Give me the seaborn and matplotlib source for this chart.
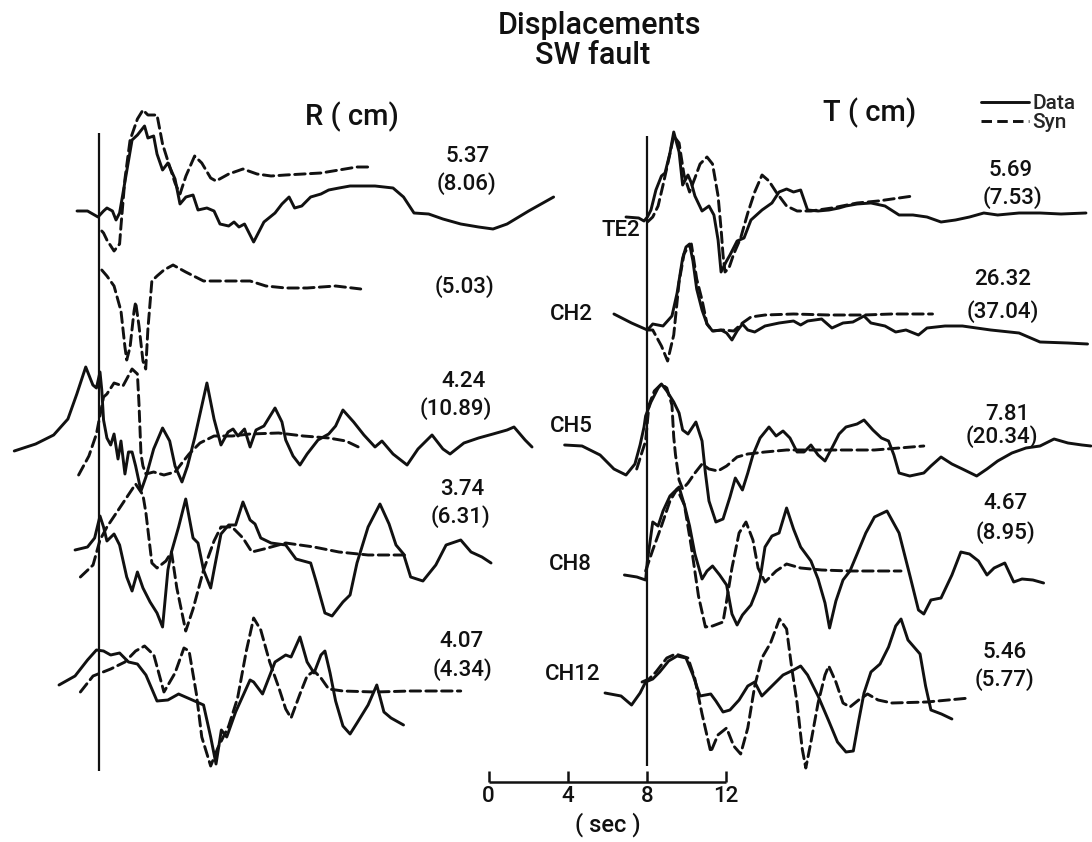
import matplotlib
matplotlib.use("Agg")
import matplotlib.pyplot as plt
from matplotlib.lines import Line2D
import pandas as pd
import seaborn as sns

# ------------------------------------------------------------------ data
STATIONS = ["TE2", "CH2", "CH5", "CH8", "CH12"]
R_DATA_PEAK = ["5.37", None, "4.24", "3.74", "4.07"]
R_SYN_PEAK = ["8.06", "5.03", "10.89", "6.31", "4.34"]
T_DATA_PEAK = ["5.69", "26.32", "7.81", "4.67", "5.46"]
T_SYN_PEAK = ["7.53", "37.04", "20.34", "8.95", "5.77"]
SCALE_TICKS = [0, 4, 8, 12]

# traces: (time in s, normalised displacement)
R_TE2_DATA = [(6.89,0),(7.42,0),(7.95,-0.3),(8.23,0),(8.40,0.15),(8.68,0),(8.86,-0.45),(9.04,-0.1),(9.67,3.55),(9.94,3.8),(10.30,4.25),(10.47,3.65),(10.76,3.75),(10.93,2.85),(11.21,2.05),(11.48,2.4),(11.84,1.6),(12.09,0.35),(12.39,0.7),(12.75,0.8),(13.00,0.05),(13.45,0.15),(13.81,0),(14.11,-0.65),(14.55,-0.75),(14.82,-0.55),(15.07,-0.8),(15.35,-0.65),(15.81,-1.55),(16.33,-0.55),(16.89,-0.1),(17.24,0.35),(17.60,0.7),(17.88,0.15),(18.24,0.25),(18.69,0.7),(19.21,0.85),(19.60,1.05),(20.12,1.15),(20.68,1.25),(21.22,1.25),(21.94,1.25),(22.85,1.15),(23.38,0.7),(23.91,-0.1),(24.65,-0.15),(25.37,-0.4),(26.27,-0.65),(27.17,-0.8),(27.90,-0.9),(28.61,-0.65),(29.70,0),(30.96,0.7)]
R_TE2_SYN = [(8.14,-1.0),(8.23,-1.1),(8.40,-1.45),(8.76,-2.0),(9.04,-1.65),(9.11,-0.75),(9.31,1.6),(9.57,3.55),(9.94,4.6),(10.22,5.05),(10.47,4.8),(10.93,4.8),(11.21,3.35),(11.48,2.5),(11.84,1.4),(12.09,0.85),(12.39,1.75),(12.83,2.75),(13.19,2.4),(13.64,1.65),(13.91,1.5),(14.55,1.85),(15.27,2.1),(15.98,1.85),(16.69,1.75),(17.43,1.8),(19.21,1.9),(21.03,2.2),(21.74,2.2)]
R_CH2_DATA = None
R_CH2_SYN = [(8.14,0),(8.40,-0.3),(8.76,-0.8),(9.11,-2.05),(9.31,-3.85),(9.40,-4.5),(9.57,-3.85),(9.77,-2.05),(9.85,-1.6),(10.02,-2.8),(10.22,-4.55),(10.36,-4.95),(10.47,-2.95),(10.67,-0.55),(10.93,-0.3),(11.28,0),(11.74,0.25),(12.38,-0.1),(13.28,-0.55),(14.36,-0.55),(15.63,-0.55),(16.43,-0.8),(17.43,-0.9),(18.51,-0.9),(19.95,-0.8),(21.22,-0.95)]
R_CH5_DATA = [(3.72,-0.55),(4.80,-0.2),(5.71,0.25),(6.43,1.05),(6.88,2.3),(7.33,3.65),(7.69,2.75),(7.87,2.6),(8.05,3.4),(8.14,2.5),(8.23,1.0),(8.40,0.1),(8.59,-0.25),(8.76,0.3),(8.96,-0.95),(9.11,-0.05),(9.31,-1.7),(9.49,-0.6),(9.67,-0.6),(9.85,-1.3),(10.12,-2.55),(10.37,-1.85),(10.76,-0.45),(11.21,0.6),(11.57,-0.05),(11.84,-1.3),(12.19,-2.1),(12.47,-1.3),(12.83,0.1),(13.45,2.85),(13.81,1.05),(14.16,-0.25),(14.52,0.4),(14.77,0.55),(15.02,0.2),(15.35,0.55),(15.63,-0.35),(15.93,0.5),(16.33,0.7),(16.89,1.6),(17.24,0.9),(17.43,0),(17.80,-0.8),(18.15,-1.25),(18.51,-0.7),(19.06,0),(19.60,0.3),(19.95,0.7),(20.32,1.5),(20.86,0.9),(21.38,0.25),(21.94,-0.35),(22.29,-0.05),(22.85,-0.7),(23.56,-1.25),(24.11,-0.45),(24.82,0.25),(25.37,-0.45),(25.73,-0.7),(26.43,-0.15),(27.17,0.1),(27.90,0.3),(28.61,0.5),(28.96,0.65),(29.52,0),(29.87,-0.35)]
R_CH5_SYN = [(6.97,-1.75),(7.49,-0.8),(7.87,0.3),(8.23,2.15),(8.40,2.3),(8.76,2.85),(9.21,2.7),(9.67,3.55),(9.94,3.3),(10.02,1.8),(10.12,-0.7),(10.22,-1.3),(10.37,-1.7),(10.76,-1.6),(11.28,-1.75),(11.84,-1.6),(12.19,-1.15),(12.55,-0.7),(13.10,-0.15),(13.81,0.2),(14.72,0.2),(15.63,0.3),(17.07,0.35),(18.33,0.2),(19.60,0.1),(20.47,-0.05),(21.31,-0.45)]
R_CH8_DATA = [(6.79,0),(7.42,0.15),(7.78,0.6),(8.05,1.7),(8.23,1.15),(8.40,0.45),(8.76,0.8),(9.04,0.25),(9.40,-1.35),(9.67,-2.05),(9.94,-1.1),(10.22,-1.9),(10.58,-2.6),(10.93,-3.15),(11.21,-3.85),(11.48,-1.0),(11.66,-0.1),(12.02,1.15),(12.38,2.55),(12.75,0.6),(13.00,0.35),(13.28,-1.0),(13.64,-1.9),(13.81,-1.0),(14.16,0.8),(14.55,1.25),(14.90,1.25),(15.27,2.4),(15.63,1.5),(15.88,1.3),(16.17,0.6),(16.69,0.35),(17.43,0.25),(17.95,-0.45),(18.69,-0.65),(18.96,-1.55),(19.41,-3.15),(19.77,-3.3),(20.32,-2.6),(20.68,-2.25),(21.03,-0.65),(21.59,1.15),(22.19,2.3),(22.65,1.3),(23.00,0.25),(23.38,-0.2),(23.74,-1.35),(24.36,-1.55),(25.01,-0.75),(25.53,0.25),(26.27,0.5),(26.79,-0.1),(27.34,-0.35),(27.80,-0.65)]
R_CH8_SYN = [(7.06,-1.35),(7.70,-0.75),(8.05,0.5),(8.40,1.15),(9.11,2.2),(9.85,3.3),(10.22,2.75),(10.37,1.85),(10.67,-0.65),(10.93,-0.9),(11.38,-0.55),(11.66,-0.1),(11.93,-1.9),(12.38,-4.05),(12.75,-2.95),(13.28,-1.0),(13.81,0.45),(14.16,1.15),(14.72,1.15),(15.27,0.6),(15.72,-0.1),(16.33,0.05),(17.43,0.35),(18.86,0.15),(20.12,-0.1),(21.59,-0.25),(23.56,-0.25)]
R_CH12_DATA = [(5.98,-0.25),(6.79,0.2),(7.42,1.0),(7.87,1.5),(8.23,1.45),(8.59,1.25),(9.04,1.35),(9.49,0.9),(9.94,0.8),(10.37,0.25),(10.93,-1.05),(11.48,-1.0),(12.02,-0.7),(12.83,-1.05),(13.28,-1.25),(13.64,-2.85),(13.91,-4.2),(14.18,-2.5),(14.45,-2.85),(14.90,-1.6),(15.63,0),(15.81,-0.1),(16.26,-0.7),(16.89,0.9),(17.43,1.25),(17.70,1.15),(18.15,2.15),(18.51,0.9),(18.86,0.35),(19.21,1.25),(19.41,1.45),(19.67,0.35),(19.95,-1.05),(20.32,-2.3),(20.68,-2.7),(21.03,-2.15),(21.59,-1.25),(22.03,-0.25),(22.39,-1.6),(22.75,-1.9),(23.38,-2.25)]
R_CH12_SYN = [(7.06,-0.6),(7.70,0.2),(8.59,0.55),(9.31,0.9),(9.85,1.45),(10.30,1.7),(10.77,1.25),(11.28,-0.6),(11.84,0.35),(12.29,1.6),(12.55,1.45),(12.92,-0.7),(13.19,-2.85),(13.64,-4.3),(14.00,-3.4),(14.55,-2.3),(15.00,-0.9),(15.44,1.45),(15.81,3.1),(16.17,2.5),(16.62,0.9),(17.07,-0.35),(17.43,-1.45),(17.70,-1.9),(18.15,-0.7),(18.51,0.2),(18.86,0.45),(19.21,0.1),(19.60,-0.45),(20.32,-0.55),(21.94,-0.6),(23.74,-0.55),(26.27,-0.55)]

T_TE2_DATA = [(6.94,0),(7.58,-0.05),(7.85,-0.2),(8.02,0),(8.20,0.35),(8.45,1.35),(8.73,2.05),(8.91,2.2),(9.16,3.2),(9.35,4.25),(9.62,3.25),(9.80,1.6),(10.07,2.1),(10.24,1.7),(10.42,1.05),(10.78,0.3),(11.13,0.55),(11.38,0.1),(11.59,-1.15),(11.74,-2.75),(11.99,-2.25),(12.19,-1.9),(12.55,-1.2),(12.90,-1.05),(13.25,-0.15),(13.81,0.35),(14.31,0.7),(14.67,1.25),(15.05,1.4),(15.40,1.25),(15.76,1.35),(16.11,0.35),(16.64,0.3),(17.19,0.35),(17.70,0.45),(18.05,0.55),(18.61,0.65),(19.31,0.7),(20.02,0.55),(20.73,0.1),(21.43,0.1),(22.14,0),(22.85,-0.25),(23.58,-0.15),(24.29,0),(25.01,0.2),(25.71,0.1),(26.79,0.2),(27.85,0.2),(28.91,0.15),(30.17,0.2)]
T_TE2_SYN = [(8.02,-0.25),(8.29,0),(8.56,0.55),(8.81,1.6),(9.09,2.85),(9.35,4.05),(9.62,3.7),(9.87,2.1),(10.15,1.25),(10.42,1.95),(10.68,2.65),(11.03,3.0),(11.31,2.65),(11.59,1.05),(11.75,-0.7),(11.84,-1.9),(11.94,-2.75),(12.14,-2.55),(12.38,-1.85),(12.73,-1.05),(13.09,0.2),(13.44,1.25),(13.81,2.1),(14.16,1.8),(14.52,1.25),(15.05,0.55),(15.58,0.3),(16.28,0.3),(17.34,0.45),(18.61,0.7),(19.67,0.8),(21.43,1.05)]
T_CH2_DATA = [(6.33,0.55),(7.22,0.1),(8.02,-0.25),(8.29,0.05),(8.81,-0.05),(9.26,0.45),(9.52,1.6),(9.80,3.35),(9.97,3.9),(10.15,4.05),(10.32,3.2),(10.51,1.8),(10.78,0.75),(11.03,0.05),(11.31,-0.3),(11.74,-0.25),(12.02,-0.4),(12.29,-0.75),(12.55,-0.3),(12.82,0.05),(13.09,-0.25),(13.44,-0.35),(13.96,-0.05),(14.67,0.1),(15.40,0.2),(15.76,0),(16.11,0.2),(16.82,0.3),(17.34,-0.15),(17.90,0.1),(18.40,0.15),(18.96,0.45),(19.31,0.1),(20.02,-0.05),(20.56,-0.35),(21.08,-0.25),(21.71,-0.5),(22.14,-0.15),(23.05,-0.05),(23.93,-0.05),(25.36,-0.25),(26.79,-0.4),(27.85,-0.85),(29.26,-0.9),(30.25,-0.95)]
T_CH2_SYN = [(8.02,-0.25),(8.29,-0.25),(8.73,-1.05),(9.04,-1.8),(9.35,-0.5),(9.62,2.15),(9.87,3.55),(10.07,3.9),(10.24,4.05),(10.51,2.3),(10.78,1.25),(11.03,0.05),(11.31,-0.3),(11.84,-0.25),(12.38,-0.3),(12.82,0.1),(13.25,0.4),(13.96,0.5),(15.40,0.55),(17.19,0.5),(18.96,0.5),(20.37,0.55),(22.42,0.55)]
T_CH5_DATA = [(3.84,0),(4.72,-0.05),(5.63,-0.5),(6.33,-1.2),(6.94,-1.5),(7.39,-0.95),(7.65,0),(7.85,0.9),(7.93,1.45),(8.20,2.15),(8.56,2.85),(8.73,3.05),(9.00,2.7),(9.35,2.15),(9.62,1.6),(9.80,0.75),(10.07,0.55),(10.47,1.15),(10.78,0.2),(10.95,-1.4),(11.13,-2.8),(11.48,-3.85),(11.84,-3.7),(12.19,-2.6),(12.46,-1.65),(12.82,-2.25),(13.09,-1.4),(13.35,-0.5),(13.71,0.35),(14.16,0.9),(14.52,0.45),(14.87,0.7),(15.22,0.35),(15.58,-0.35),(15.93,-0.35),(16.28,0),(16.64,-0.5),(16.99,-0.8),(17.34,-0.15),(17.70,0.55),(18.05,0.9),(18.61,1.05),(18.96,1.25),(19.41,0.75),(19.84,0.35),(20.20,0.2),(20.47,-0.5),(20.73,-1.4),(21.27,-1.55),(21.98,-1.4),(22.34,-1.05),(22.85,-0.6),(23.40,-0.95),(23.93,-1.2),(24.65,-1.55),(25.17,-1.2),(25.71,-0.8),(26.43,-0.4),(27.14,-0.15),(27.85,-0.05),(28.56,0.3),(29.26,0.1),(29.97,0),(30.42,-0.05)]
T_CH5_SYN = [(7.48,-1.2),(7.75,-0.35),(7.93,0.2),(8.10,2.0),(8.37,2.7),(8.73,3.05),(9.00,2.85),(9.26,2.0),(9.35,0.4),(9.44,-0.5),(9.62,-1.75),(9.80,-2.2),(10.07,-1.9),(10.42,-1.4),(10.78,-0.95),(11.13,-1.2),(11.58,-1.3),(12.02,-1.05),(12.55,-0.6),(13.09,-0.45),(13.96,-0.35),(15.05,-0.25),(16.28,-0.25),(17.70,-0.25),(19.49,-0.25),(21.98,-0.05)]
T_CH8_DATA = [(6.86,0),(7.49,-0.1),(7.93,-0.25),(8.02,0.7),(8.29,2.65),(8.56,2.45),(8.81,3.2),(9.16,3.95),(9.62,4.4),(9.89,3.5),(10.15,2.45),(10.42,1.05),(10.78,-0.2),(11.03,0.2),(11.31,0.45),(11.67,0),(12.02,-0.5),(12.29,-1.95),(12.55,-2.5),(12.82,-2.0),(13.25,-1.5),(13.53,-0.8),(13.71,-0.2),(13.96,1.4),(14.31,1.95),(14.67,2.1),(15.05,3.35),(15.40,2.3),(15.76,1.4),(16.28,0.7),(16.64,-0.2),(16.99,-1.4),(17.22,-2.65),(17.54,-1.3),(17.90,-0.25),(18.25,0.2),(18.61,1.05),(19.05,2.1),(19.49,2.9),(20.12,3.2),(20.73,2.1),(21.27,0),(21.71,-1.75),(21.98,-1.95),(22.34,-1.25),(22.85,-1.15),(23.40,0),(23.85,1.15),(24.29,1.05),(24.74,0.7),(25.17,0),(25.53,0.35),(26.07,0.6),(26.52,-0.35),(26.94,-0.2),(27.49,-0.25),(28.03,-0.4)]
T_CH8_SYN = [(7.93,0.2),(8.29,1.25),(8.73,2.45),(9.16,3.7),(9.52,4.3),(9.89,3.5),(10.24,1.4),(10.60,-1.05),(10.95,-2.6),(11.31,-2.55),(11.84,-2.35),(12.02,-1.3),(12.29,0.35),(12.65,2.1),(13.00,2.65),(13.35,1.75),(13.61,0.35),(13.96,-0.35),(14.52,0.2),(15.05,0.55),(15.76,0.35),(16.82,0.25),(18.25,0.2),(19.67,0.2),(20.83,0.2)]
T_CH12_DATA = [(5.88,-0.15),(6.69,-0.3),(7.22,-0.75),(7.65,-0.15),(7.93,0.4),(8.29,0.55),(8.64,0.9),(9.09,1.45),(9.52,1.7),(9.97,1.6),(10.32,0.75),(10.68,-0.3),(11.22,-0.2),(11.48,-0.55),(11.84,-1.1),(12.19,-1.0),(12.65,-0.5),(13.09,0.2),(13.44,0.4),(13.80,-0.3),(14.31,0.2),(14.87,0.75),(15.40,1.0),(15.76,1.2),(16.11,0.75),(16.64,-0.3),(17.18,-1.55),(17.62,-2.6),(18.05,-3.1),(18.42,-3.05),(18.69,-1.55),(18.96,-0.15),(19.31,0.9),(19.77,1.3),(20.20,2.15),(20.56,3.2),(20.83,3.55),(21.18,2.5),(21.79,1.8),(22.07,0.2),(22.34,-1.0),(22.87,-1.2),(23.40,-1.45)]
T_CH12_SYN = [(7.75,0.4),(8.10,0.55),(8.45,0.9),(9.00,1.6),(9.44,1.8),(10.07,1.6),(10.42,0.55),(10.78,-1.2),(11.22,-3.1),(11.58,-2.25),(12.02,-1.9),(12.38,-2.8),(12.73,-3.2),(13.09,-1.9),(13.44,0.2),(13.80,1.6),(14.24,2.35),(14.69,3.55),(15.05,3.05),(15.31,1.1),(15.58,-0.65),(15.84,-2.95),(16.02,-3.9),(16.28,-2.6),(16.64,-0.65),(16.99,0.75),(17.18,1.2),(17.54,0.4),(17.90,-0.65),(18.25,-0.85),(18.69,-0.5),(19.14,-0.2),(19.67,-0.5),(20.37,-0.65),(22.14,-0.6),(24.29,-0.4)]

R_TRACES = [(R_TE2_DATA, R_TE2_SYN), (R_CH2_DATA, R_CH2_SYN), (R_CH5_DATA, R_CH5_SYN),
            (R_CH8_DATA, R_CH8_SYN), (R_CH12_DATA, R_CH12_SYN)]
T_TRACES = [(T_TE2_DATA, T_TE2_SYN), (T_CH2_DATA, T_CH2_SYN), (T_CH5_DATA, T_CH5_SYN),
            (T_CH8_DATA, T_CH8_SYN), (T_CH12_DATA, T_CH12_SYN)]

# ---------------------------------------------------------------- layout
W, H = 1092, 842
PX_PER_S = 19.8
PX_PER_UNIT = 20.0
ONSET_S = 8.0
PANELS = {
    "R": dict(px=(0, 560), onset_px=99, base_px=[211, 270, 440, 550, 680], line_px=(133, 771),
              title=("R ( cm)", 352, 117),
              data_lbl=[(468, 157), None, (464, 381), (462, 489.5), (461, 641.5)],
              syn_lbl=[(466, 184), (464, 286.5), (456, 408.5), (461, 516.5), (462, 670)]),
    "T": dict(px=(440, 1092), onset_px=647, base_px=[217, 325, 445, 575, 690], line_px=(136, 766),
              title=("T ( cm)", 870, 113),
              data_lbl=[(1011, 171), (1003, 279.5), (1007, 415), (1005.6, 503.5), (1005, 653)],
              syn_lbl=[(1012.5, 197.5), (1003, 312), (1002, 437), (1005.6, 532.6), (1005, 680)]),
}
STATION_LBL = [(621, 231), (571.5, 314), (571.5, 426.5), (570, 564), (572.5, 675)]
SCALE_Y_PX = (781.7, 771.0, 796.5, 824.5)
LW = 2.1
DASH = (0, (3.6, 1.8))
COLOR = "#111111"
TXT = dict(ha="center", va="center", fontweight="medium", color=COLOR)

sns.set_style("white")
plt.rcParams["font.family"] = ["Roboto", "DejaVu Sans"]

fig = plt.figure(figsize=(W / 100, H / 100), dpi=100)


def fx(px):
    return px / W


def fy(py):
    return 1 - py / H


def yu(py):
    return (H - py) / PX_PER_UNIT


axes = {}
for key, cfg in PANELS.items():
    x0, x1 = cfg["px"]
    ax = fig.add_axes([x0 / W, 0, (x1 - x0) / W, 1])
    ax.set_xlim(ONSET_S + (x0 - cfg["onset_px"]) / PX_PER_S, ONSET_S + (x1 - cfg["onset_px"]) / PX_PER_S)
    ax.set_ylim(0, H / PX_PER_UNIT)
    ax.axis("off")
    ax.patch.set_alpha(0)
    axes[key] = ax
    # onset line
    ax.vlines(ONSET_S, yu(cfg["line_px"][1]), yu(cfg["line_px"][0]), color=COLOR, lw=1.6)
    fig.text(fx(cfg["title"][1]), fy(cfg["title"][2]), cfg["title"][0], fontsize=21, **TXT)

for key, traces, dpk, spk in (("R", R_TRACES, R_DATA_PEAK, R_SYN_PEAK),
                              ("T", T_TRACES, T_DATA_PEAK, T_SYN_PEAK)):
    ax = axes[key]
    cfg = PANELS[key]
    for i, (dat, syn) in enumerate(traces):
        base = yu(cfg["base_px"][i])
        for pts, ls in ((syn, DASH), (dat, "-")):
            if pts is None:
                continue
            df = pd.DataFrame(pts, columns=["t", "a"])
            df["y"] = base + df["a"]
            sns.lineplot(data=df, x="t", y="y", ax=ax, color=COLOR, linewidth=LW,
                         linestyle=ls, sort=False, estimator=None, legend=False,
                         solid_joinstyle="round", dash_joinstyle="round",
                         solid_capstyle="round", dash_capstyle="round")
        if dpk[i] is not None:
            px, py = cfg["data_lbl"][i]
            fig.text(fx(px), fy(py), dpk[i], fontsize=16, **TXT)
        px, py = cfg["syn_lbl"][i]
        fig.text(fx(px), fy(py), f"({spk[i]})", fontsize=16, **TXT)
    ax.set_xlabel("")
    ax.set_ylabel("")

for name, (px, py) in zip(STATIONS, STATION_LBL):
    fig.text(fx(px), fy(py), name, fontsize=16, **TXT)

# title
fig.text(fx(599), fy(25), "Displacements", fontsize=22, **TXT)
fig.text(fx(593), fy(55), "SW fault", fontsize=22, **TXT)

# time scale bar
axT = axes["T"]
yb, yt, ylab, ysec = (yu(v) for v in SCALE_Y_PX)
axT.hlines(yb, min(SCALE_TICKS), max(SCALE_TICKS), color=COLOR, lw=1.8)
axT.vlines(SCALE_TICKS, yb, yt, color=COLOR, lw=1.8)
for tk in SCALE_TICKS:
    axT.text(tk, ylab, str(tk), fontsize=16, **TXT)
axT.text((SCALE_TICKS[1] + SCALE_TICKS[2]) / 2, ysec, "( sec )", fontsize=17, **TXT)

# legend
handles = [Line2D([], [], color=COLOR, lw=LW, ls="-"), Line2D([], [], color=COLOR, lw=LW, ls=DASH)]
leg = fig.legend(handles=handles, labels=["Data", "Syn"], loc="upper left",
                 bbox_to_anchor=(fx(981), fy(94)), frameon=False,
                 prop=dict(family=["Roboto", "DejaVu Sans"], size=15, weight="medium"),
                 handlelength=2.3, handletextpad=0.15, labelspacing=0.0, borderpad=0, borderaxespad=0)

fig.savefig("out.png", dpi=100, facecolor="white")
